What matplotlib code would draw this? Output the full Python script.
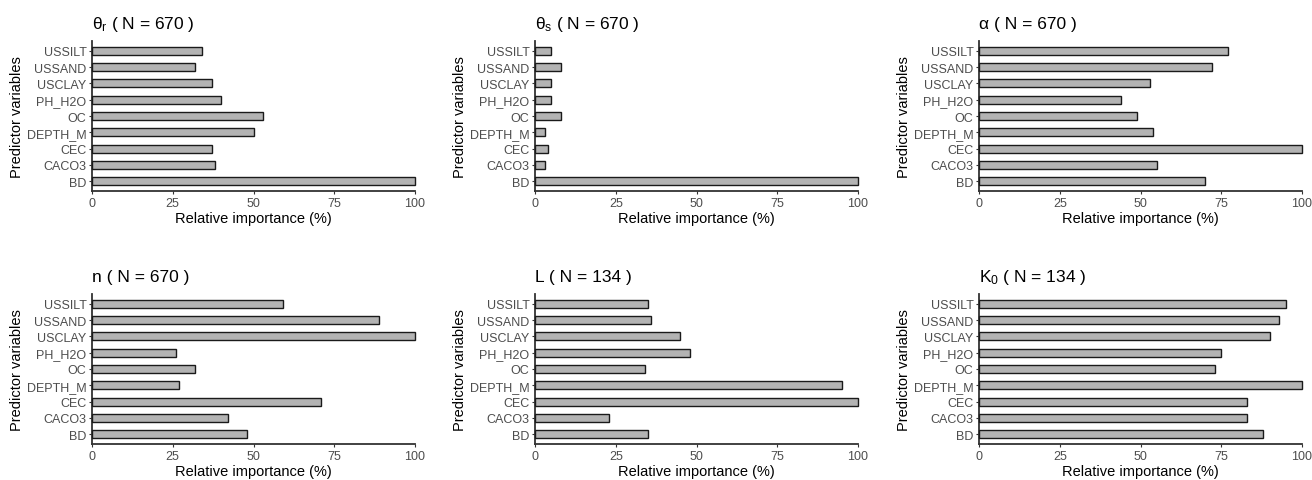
import matplotlib
matplotlib.use("Agg")
import matplotlib.pyplot as plt

plt.rcParams['font.family'] = ['Liberation Sans', 'DejaVu Sans']
plt.rcParams['mathtext.fontset'] = 'custom'
plt.rcParams['mathtext.rm'] = 'Liberation Sans'
plt.rcParams['mathtext.it'] = 'Liberation Sans:italic'

variables = ["BD", "CACO3", "CEC", "DEPTH_M", "OC", "PH_H2O", "USCLAY", "USSAND", "USSILT"]

theta_r = [100, 38, 37, 50, 53, 40, 37, 32, 34]
theta_s = [100, 3, 4, 3, 8, 5, 5, 8, 5]
alpha = [70, 55, 100, 54, 49, 44, 53, 72, 77]
n_param = [48, 42, 71, 27, 32, 26, 100, 89, 59]
L_param = [35, 23, 100, 95, 34, 48, 45, 36, 35]
K0 = [88, 83, 83, 100, 73, 75, 90, 93, 95]

titles = ["θ$_{\\mathrm{r}}$ ( N = 670 )", "θ$_{\\mathrm{s}}$ ( N = 670 )",
          "α ( N = 670 )", "n ( N = 670 )", "L ( N = 134 )",
          "K$_{\\mathrm{0}}$ ( N = 134 )"]
series = [theta_r, theta_s, alpha, n_param, L_param, K0]
xticks = [0, 25, 50, 75, 100]

W, H = 1312, 481
fig = plt.figure(figsize=(W / 100, H / 100), dpi=100)

lefts = [92, 535, 979]
tops = [42, 295]
pw, ph = 323, 150

for i, (vals, title) in enumerate(zip(series, titles)):
    r, c = divmod(i, 3)
    left = lefts[c]
    top = tops[r]
    ax = fig.add_axes([left / W, (H - top - ph) / H, pw / W, ph / H])
    ypos = list(range(1, len(variables) + 1))
    ax.barh(ypos, vals, height=0.5, color="#b3b3b3", edgecolor="#1a1a1a",
            linewidth=1.0, clip_on=False, zorder=3)
    ax.set_xlim(0, 100)
    ax.set_ylim(0.4, 9.6)
    ax.set_yticks(ypos)
    ax.set_yticklabels(variables)
    ax.set_xticks(xticks)
    ax.set_xticklabels([str(t) for t in xticks])
    for s in ["top", "right"]:
        ax.spines[s].set_visible(False)
    for s in ["left", "bottom"]:
        ax.spines[s].set_color("#333333")
        ax.spines[s].set_linewidth(1.3)
    ax.tick_params(axis="both", colors="#333333", labelcolor="#4d4d4d",
                   labelsize=9, length=2.5, width=0.8, pad=1.5)
    ax.tick_params(axis="x", pad=2)
    ax.set_xlabel("Relative importance (%)", fontsize=10.5, color="black", labelpad=1.5)
    ax.set_ylabel("Predictor variables", fontsize=10.5, color="black", labelpad=2)
    ax.set_title(title, fontsize=12.5, loc="left", pad=9, color="black")

fig.savefig("out.png", dpi=100)
